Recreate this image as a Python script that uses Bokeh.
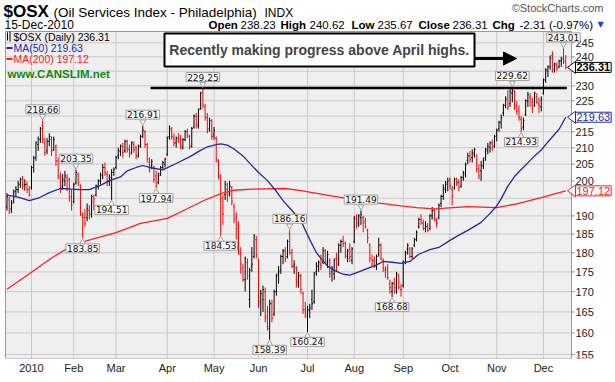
import math
import pandas as pd
from bokeh.plotting import figure
from bokeh.models import (FixedTicker, Label, Arrow, NormalHead, ColumnDataSource)
from bokeh.embed import file_html
from bokeh.resources import INLINE

# ---------------- data ----------------
holidays = ["2009-12-25", "2010-01-01", "2010-01-18", "2010-02-15", "2010-04-02",
            "2010-05-31", "2010-07-05", "2010-09-06", "2010-11-25"]
trade_dates = [d for d in pd.bdate_range("2009-12-16", "2010-12-15")
               if d.strftime("%Y-%m-%d") not in holidays]

opens = [
    192.5, 194.5, 192.0, 194.0, 197.0, 197.5, 199.0, 200.5, 198.8, 199.0, 197.5,
    198.0, 204.0, 207.0, 211.0, 212.5, 217.0, 211.5, 209.0, 212.0, 212.5, 209.5, 210.5, 206.0, 201.0, 198.5, 200.0, 201.0, 200.5, 195.5,
    194.0, 199.5, 202.0, 198.5, 190.0, 189.5, 189.5, 191.5, 190.5, 194.0, 196.0, 198.5, 200.0, 201.5, 204.0, 202.0, 200.0, 198.0, 202.5,
    204.0, 207.5, 209.0, 210.5, 209.0, 212.0, 209.5, 208.5, 211.0, 210.0, 207.5, 210.5, 214.0, 215.0, 211.0, 205.5, 204.5, 204.0, 201.5, 199.5, 202.0, 204.0, 205.0,
    208.0, 213.5, 215.5, 213.0, 211.5, 213.0, 212.5, 210.0, 212.5, 215.0, 213.5, 210.5, 216.5, 220.0, 217.0, 222.5, 228.0, 223.0, 219.5, 216.0, 218.5,
    214.0, 213.0, 206.0, 201.0, 194.0, 196.0, 197.5, 196.5, 198.0, 192.5, 189.5, 187.5, 180.0, 176.0, 173.0, 177.5, 168.0, 176.5, 179.0, 183.5,
    178.0, 167.5, 168.0, 170.0, 164.0, 161.0, 167.0, 164.5, 170.0, 174.5, 175.5, 179.0, 180.5, 179.0, 185.0, 180.0, 176.5, 176.0, 172.5, 174.0, 169.5, 165.5,
    164.0, 165.5, 168.0, 167.5, 175.0, 176.5, 177.0, 177.5, 180.5, 177.5, 178.0, 175.0, 174.5, 178.5, 177.0, 182.0, 183.0, 182.5, 179.0, 181.0, 178.0,
    183.0, 189.0, 188.0, 189.5, 189.5, 188.5, 186.0, 182.0, 177.0, 178.0, 176.5, 179.5, 182.0, 178.0, 175.5, 176.0, 172.0, 170.0, 172.0, 171.0, 174.0, 170.5,
    171.5, 177.5, 181.0, 181.0, 179.0, 182.0, 183.5, 187.0, 189.0, 188.0, 186.5, 187.0, 186.5, 190.0, 191.5, 188.5, 189.5, 193.5, 195.5, 197.5, 199.5,
    200.5, 197.5, 198.0, 200.5, 199.5, 198.5, 201.0, 202.0, 206.0, 207.5, 207.0, 208.0, 207.5, 203.5, 203.0, 204.5, 207.0, 209.0, 210.0, 211.5, 210.5,
    214.0, 216.0, 218.0, 221.0, 223.5, 226.0, 224.0, 227.5, 228.0, 223.5, 222.0, 219.0, 216.5, 220.5, 225.0, 226.0, 224.5, 223.5, 226.5, 224.0, 223.0,
    227.5, 232.0, 235.0, 236.5, 240.5, 235.5, 237.0, 236.5, 238.5, 239.5, 238.23,
]
highs = [
    196.5, 195.5, 194.5, 197.5, 198.5, 200.0, 201.0, 201.5, 200.5, 199.8, 198.5,
    204.5, 207.5, 212.0, 213.5, 216.5, 218.66, 213.0, 213.0, 214.5, 213.5, 213.5, 211.0, 207.0, 202.5, 202.0, 203.0, 202.0, 201.0, 197.5,
    199.5, 203.35, 202.5, 199.0, 191.0, 192.0, 193.5, 193.0, 196.0, 196.0, 199.0, 200.5, 202.5, 205.0, 205.5, 203.0, 202.0, 203.5, 204.0,
    207.5, 210.0, 211.0, 211.5, 212.5, 212.5, 211.0, 212.0, 212.0, 210.5, 211.0, 214.0, 216.91, 215.5, 211.5, 207.0, 206.5, 204.5, 203.0, 202.5, 204.5, 206.0, 207.0,
    213.5, 217.0, 216.5, 214.5, 213.5, 214.5, 214.0, 213.0, 215.5, 216.0, 214.0, 216.5, 220.5, 221.0, 222.5, 228.0, 229.25, 224.0, 221.0, 219.5, 219.0,
    216.5, 213.5, 206.5, 202.0, 196.0, 200.0, 199.5, 200.0, 198.5, 193.5, 191.0, 188.5, 181.5, 177.0, 179.0, 178.5, 176.0, 181.5, 185.0, 184.5,
    178.5, 170.5, 171.5, 171.0, 166.5, 168.0, 168.0, 170.5, 174.5, 176.5, 179.5, 181.0, 181.5, 183.5, 186.16, 181.0, 178.0, 176.5, 175.0, 174.5, 170.0, 167.5,
    166.5, 167.0, 170.5, 175.0, 177.5, 178.0, 179.5, 181.5, 181.0, 180.5, 178.5, 176.5, 178.5, 180.0, 182.5, 183.5, 184.5, 183.0, 181.0, 182.5, 181.5,
    190.0, 190.5, 190.5, 191.49, 190.0, 189.5, 186.5, 182.5, 179.5, 179.0, 179.5, 184.0, 182.5, 178.5, 176.5, 177.0, 173.0, 172.5, 173.5, 175.0, 174.5, 172.0,
    178.0, 180.5, 182.5, 181.5, 181.5, 184.0, 186.0, 189.5, 190.5, 189.0, 188.5, 188.0, 190.5, 192.5, 192.0, 189.5, 193.5, 196.0, 199.0, 200.0, 201.0,
    201.0, 198.5, 201.0, 201.0, 200.5, 201.5, 203.0, 205.5, 208.5, 209.0, 209.5, 210.0, 208.0, 205.0, 206.0, 207.0, 210.0, 211.5, 212.0, 212.5, 214.0,
    216.0, 218.5, 220.5, 224.0, 226.5, 228.5, 229.5, 229.62, 228.5, 225.0, 223.5, 220.0, 219.5, 225.5, 228.0, 227.5, 226.0, 228.0, 227.5, 226.0, 226.5,
    232.5, 236.0, 237.0, 240.5, 242.0, 238.0, 238.0, 239.0, 240.0, 243.01, 240.62,
]
lows = [
    191.5, 190.5, 190.8, 193.5, 195.5, 196.5, 198.0, 197.5, 197.2, 196.5, 195.5,
    197.5, 202.5, 206.0, 209.0, 211.5, 211.5, 207.5, 208.0, 210.5, 207.5, 209.0, 204.5, 200.5, 196.5, 197.5, 198.5, 197.0, 194.0, 191.5,
    193.5, 199.0, 198.5, 190.0, 183.85, 187.0, 188.5, 189.0, 189.5, 191.5, 195.5, 197.5, 199.0, 200.5, 201.5, 198.5, 198.5, 194.51, 201.5,
    203.5, 206.5, 207.5, 207.0, 208.5, 208.5, 207.0, 208.0, 208.5, 206.5, 207.0, 210.0, 213.0, 210.0, 205.5, 202.5, 203.5, 199.5, 197.94, 199.0, 201.5, 203.5, 204.0,
    207.5, 212.5, 212.5, 210.5, 210.0, 211.5, 209.5, 209.5, 212.0, 213.0, 209.5, 210.0, 216.0, 216.0, 216.0, 222.0, 222.5, 218.5, 214.5, 215.0, 212.5,
    212.5, 205.5, 200.5, 184.53, 187.5, 194.5, 194.0, 195.5, 193.0, 188.0, 183.5, 179.5, 174.5, 172.5, 170.0, 173.0, 166.0, 175.0, 178.5, 178.5,
    166.0, 164.0, 165.0, 162.5, 160.5, 158.39, 162.5, 164.0, 169.0, 172.0, 174.5, 177.0, 177.5, 178.5, 179.5, 176.0, 174.5, 171.0, 171.0, 169.5, 164.5, 163.5,
    160.24, 163.5, 165.5, 167.0, 174.0, 175.0, 175.5, 177.0, 177.0, 176.0, 173.5, 172.5, 173.0, 175.0, 176.5, 180.0, 181.5, 178.5, 177.5, 177.5, 177.0,
    182.5, 186.5, 187.0, 187.5, 185.5, 186.5, 182.5, 177.5, 176.5, 176.0, 175.5, 179.0, 178.0, 175.0, 173.5, 173.0, 169.5, 168.68, 169.5, 169.5, 170.5, 168.8,
    171.0, 177.0, 179.5, 178.5, 178.5, 181.5, 183.0, 186.5, 187.5, 186.0, 185.5, 185.5, 186.0, 189.0, 188.5, 186.8, 189.0, 192.5, 194.5, 196.5, 197.0,
    197.5, 193.0, 197.5, 198.5, 197.0, 198.0, 200.0, 201.0, 205.0, 205.5, 205.5, 207.0, 202.5, 200.5, 200.0, 203.5, 206.0, 208.0, 208.5, 209.0, 210.0,
    212.0, 215.0, 216.0, 220.0, 222.5, 222.0, 223.0, 224.5, 222.0, 220.5, 218.5, 214.93, 215.5, 220.0, 223.0, 223.0, 221.0, 223.0, 224.0, 221.0, 221.5,
    227.0, 231.0, 233.0, 235.5, 234.5, 234.5, 235.0, 236.0, 236.5, 237.5, 235.67,
]
closes = [
    195.5, 191.5, 193.5, 196.8, 197.5, 199.2, 200.5, 198.5, 199.0, 197.5, 196.0,
    204.0, 206.8, 211.5, 212.8, 216.0, 212.5, 208.5, 212.0, 213.5, 209.0, 212.5, 206.0, 201.5, 197.5, 200.5, 201.5, 200.0, 195.0, 193.0,
    199.0, 202.5, 199.5, 190.5, 189.5, 187.8, 192.0, 190.5, 195.5, 194.8, 198.5, 200.0, 201.8, 204.0, 202.5, 199.5, 201.0, 202.5, 203.5,
    207.0, 209.0, 210.5, 208.5, 212.0, 209.5, 208.0, 211.5, 209.5, 207.5, 210.5, 213.5, 215.5, 211.0, 206.5, 204.0, 205.8, 200.5, 198.5, 201.5, 204.0, 205.5, 206.5,
    213.0, 216.0, 213.5, 211.5, 213.0, 212.0, 210.5, 212.5, 215.0, 214.0, 210.5, 216.0, 220.0, 217.5, 222.0, 227.5, 223.5, 219.5, 215.5, 218.5, 213.5,
    215.5, 206.5, 201.5, 195.0, 190.5, 199.0, 196.0, 198.5, 194.0, 189.0, 186.5, 180.5, 177.0, 173.0, 178.5, 174.0, 175.5, 177.0, 184.5, 179.5,
    167.0, 169.5, 170.5, 163.5, 161.5, 167.0, 163.5, 170.0, 174.0, 175.0, 179.0, 180.5, 178.5, 183.0, 180.0, 176.5, 177.0, 172.0, 174.0, 170.5, 165.5, 164.5,
    165.5, 166.0, 167.0, 174.5, 176.5, 177.5, 176.5, 180.5, 178.0, 179.5, 174.5, 176.0, 178.0, 175.5, 182.0, 183.0, 182.5, 179.5, 180.5, 179.0, 181.0,
    189.5, 187.5, 190.0, 190.5, 188.0, 187.0, 184.0, 178.5, 178.0, 176.5, 179.0, 182.0, 178.5, 176.0, 175.5, 173.5, 171.0, 172.0, 170.0, 174.5, 171.0, 170.5,
    177.5, 180.0, 182.0, 179.0, 181.0, 183.5, 185.5, 189.0, 188.0, 186.5, 187.0, 186.0, 190.0, 191.5, 189.0, 188.0, 193.0, 195.5, 198.0, 199.0, 200.0,
    198.5, 195.5, 200.5, 199.5, 198.0, 201.0, 202.5, 205.0, 207.5, 206.5, 208.5, 209.5, 203.5, 201.5, 204.5, 206.0, 209.5, 210.5, 211.5, 210.0, 213.5,
    215.5, 218.0, 219.5, 223.5, 225.5, 223.0, 228.0, 228.5, 223.0, 221.5, 219.5, 216.0, 218.5, 225.0, 227.0, 226.5, 222.5, 227.5, 224.5, 223.5, 225.5,
    232.0, 235.5, 236.5, 239.5, 235.0, 237.5, 236.0, 238.5, 239.0, 238.62, 236.31,
]

# moving averages (trading-day number, value)
ma50_days = [0, 5, 10, 14, 19, 24, 29, 33, 37, 42, 46, 51, 54, 58, 61, 64, 70, 76, 82, 86, 90, 94, 96, 99,
             102, 106, 109, 113, 117, 121, 124, 128, 132, 136, 139, 141, 144, 147, 151, 154, 158, 162, 166,
             169, 173, 177, 181, 185, 190, 194, 199, 203, 207, 210, 213, 217, 220, 222, 225, 228, 231, 234,
             237, 240, 243, 246, 248, 251]
ma50_vals = [195.9, 195.3, 194.3, 195.0, 196.6, 197.8, 197.6, 197.5, 197.5, 198.7, 200.1, 201.2, 203.0, 204.0,
             204.6, 204.0, 203.3, 205.2, 207.2, 208.8, 210.3, 211.0, 211.2, 210.8, 209.6, 207.5, 205.3, 202.5,
             200.1, 197.0, 194.3, 191.5, 188.7, 183.5, 180.0, 178.5, 176.5, 175.4, 174.4, 174.2, 175.0, 175.9,
             176.8, 177.7, 177.5, 177.2, 177.7, 179.6, 180.8, 181.4, 183.3, 184.7, 186.0, 187.1, 188.2, 190.7,
             192.8, 194.8, 198.5, 201.3, 203.4, 205.4, 207.5, 209.3, 211.8, 214.2, 215.8, 219.63]
ma200_days = [0, 11, 20, 27, 36, 49, 60, 72, 81, 88, 96, 102, 110, 125, 132, 147, 162, 177, 184, 192, 207,
              220, 229, 240, 251]
ma200_vals = [170.6, 174.9, 178.6, 181.1, 183.2, 185.4, 187.9, 189.3, 192.0, 194.2, 196.3, 197.3, 197.6,
              197.8, 197.2, 195.5, 194.0, 192.8, 192.3, 192.0, 192.6, 192.3, 193.4, 195.2, 197.12]

callout_days = [16, 31, 34, 47, 61, 67, 88, 96, 118, 127, 135, 159, 173, 227, 231, 250]
callout_side = ["high", "high", "low", "low", "high", "low", "high", "low", "low", "high", "low",
                "high", "low", "high", "low", "high"]

april_high = 229.25
month_names = ["2010", "Feb", "Mar", "Apr", "May", "Jun", "Jul", "Aug", "Sep", "Oct", "Nov", "Dec"]
price_ticks = list(range(155, 250, 5))

# ---------------- geometry (page pixels) ----------------
W, H = 615, 382
FRAME_H = 358                       # frame covers page y 0..358; x axis below
CH_L, CH_R, CH_T, CH_B = 5, 571, 31, 358
BAR0, STEP = 6.5, 2.226             # page x of first bar, pixels per trading day
Y0, Y1 = 154.1, 249.1               # data y at chart box bottom/top
KY = math.log(Y1 / Y0) / (CH_B - CH_T)


def px(xp):  # page x -> data x
    return (xp - BAR0) / STEP


def py(yp):  # page y -> data y (log scale)
    return Y0 * math.exp((CH_B - yp) * KY)


def shift(v, d):  # move a value d pixels upward
    return v * math.exp(d * KY)


X0, X1 = px(CH_L), px(CH_R)
n = len(closes)
xs = list(range(n))
RED = "#ff0000"
NAVY = "#26269e"
MARED = "#ff2020"
colors = ["black" if i == 0 or closes[i] >= closes[i - 1] else RED for i in range(n)]

month_idx = []
for i, d in enumerate(trade_dates):
    if d.year == 2010 and (i == 0 or trade_dates[i - 1].month != d.month):
        month_idx.append(i)

p = figure(width=W, height=H, frame_width=W, frame_height=FRAME_H,
           output_backend="svg", toolbar_location=None,
           y_axis_type="log", x_range=(px(0), px(W)), y_range=(Y0, py(0)),
           min_border_left=0, min_border_right=0, min_border_top=0, min_border_bottom=H - FRAME_H)
p.background_fill_color = "white"
p.border_fill_color = "white"
p.outline_line_color = None
p.yaxis.visible = False
p.grid.visible = False

p.xaxis.ticker = FixedTicker(ticks=month_idx)
p.xaxis.major_label_overrides = {m: name for m, name in zip(month_idx, month_names)}
p.xaxis.major_label_text_font = "Liberation Sans"
p.xaxis.major_label_text_font_size = "11px"
p.xaxis.major_label_text_color = "#222222"
p.xaxis.axis_line_color = None
p.xaxis.major_tick_line_color = None
p.xaxis.minor_tick_line_color = None
p.xaxis.major_tick_out = 0
p.xaxis.major_tick_in = 0
p.xaxis.major_label_standoff = 3

# chart box + grid
p.quad(left=[X0], right=[X1], bottom=[Y0], top=[Y1], fill_color="#efefef", line_color=None)
GRID = "#c9c9c9"
p.segment(x0=[X0] * len(price_ticks), x1=[X1] * len(price_ticks), y0=price_ticks, y1=price_ticks,
          line_color=GRID, line_width=1)
p.segment(x0=month_idx, x1=month_idx, y0=[Y0] * len(month_idx), y1=[Y1] * len(month_idx),
          line_color=GRID, line_width=1)

# OHLC bars
src = ColumnDataSource(dict(x=xs, o=opens, h=highs, l=lows, c=closes, col=colors,
                            xl=[i - 0.45 for i in xs], xr=[i + 0.45 for i in xs]))
p.segment(x0="x", y0="l", x1="x", y1="h", line_color="col", line_width=1, source=src)
p.segment(x0="xl", y0="o", x1="x", y1="o", line_color="col", line_width=1, source=src)
p.segment(x0="x", y0="c", x1="xr", y1="c", line_color="col", line_width=1, source=src)

# moving averages
p.line(ma200_days, ma200_vals, line_color=MARED, line_width=1.3)
p.line(ma50_days, ma50_vals, line_color=NAVY, line_width=1.3)

# chart border
p.quad(left=[X0], right=[X1], bottom=[Y0], top=[Y1], fill_color=None, line_color="#9a9a9a", line_width=1)

# right price scale
shown = [t for t in price_ticks if t not in (195, 220, 235)]
p.segment(x0=[X1] * len(shown), x1=[px(CH_R + 3)] * len(shown), y0=shown, y1=shown,
          line_color="#888888", line_width=1)
p.text(x=[px(CH_R + 4)] * len(shown), y=shown, text=[str(t) for t in shown],
       text_font_size="11px", text_color="#222222", text_baseline="middle", text_align="left",
       text_font={"value": "Liberation Sans"})

# April-high line
p.segment(x0=[px(150)], y0=[april_high], x1=[n - 0.5], y1=[april_high], line_color="black", line_width=2.5)

# note box + arrow
p.quad(left=[px(164)], right=[px(474)], top=[py(33)], bottom=[py(66)],
       fill_color="white", line_color="black", line_width=2)
p.add_layout(Label(x=px(319), y=py(49.5), text="Recently making progress above April highs.",
                   text_font="Liberation Sans", text_font_style="bold", text_font_size="14px",
                   text_align="center", text_baseline="middle"))
p.add_layout(Arrow(end=NormalHead(size=13, fill_color="black", line_color="black"),
                   x_start=px(474), y_start=py(58), x_end=px(516), y_end=py(58),
                   line_width=3, line_color="black"))

# callouts
cx, cy_tri, mk = [], [], []
for d, side in zip(callout_days, callout_side):
    v = highs[d] if side == "high" else lows[d]
    up = side == "high"
    cx.append(d)
    cy_tri.append(shift(v, 4 if up else -4))
    mk.append("inverted_triangle" if up else "triangle")
p.scatter(x=cx, y=cy_tri, marker=mk, size=6, fill_color="#f8f8f8", line_color="#a0a0a0")
for d, side in zip(callout_days, callout_side):
    v = highs[d] if side == "high" else lows[d]
    up = side == "high"
    p.add_layout(Label(x=d, y=shift(v, 11 if up else -10), text=f"{v:.2f}",
                       text_font="DejaVu Sans", text_font_size="9px", text_color="#111111",
                       text_align="center", text_baseline="middle",
                       background_fill_color="#f8f8f8", border_line_color="#a0a0a0", padding=1))


def lab(xp, yp, text, size="11px", color="black", bold=False, align="left", font="Liberation Sans", **kw):
    p.add_layout(Label(x=px(xp), y=py(yp), text=text, text_font=font, text_font_size=size,
                       text_color=color, text_font_style="bold" if bold else "normal",
                       text_align=align, text_baseline="middle", **kw))


# header
lab(3, 11, "$OSX", size="17px", bold=True)
lab(53, 12, "(Oil Services Index - Philadelphia)", size="13.5px")
lab(264, 12, "INDX", size="12px")
lab(603, 7, "\u00a9StockCharts.com", size="11px", color="#555555", align="right")
lab(4, 24, "15-Dec-2010", size="12px")
hdr = [(208, "Open", True), (240, f"{opens[-1]:.2f}", False), (280, "High", True),
       (309, f"{highs[-1]:.2f}", False), (351, "Low", True), (377, f"{lows[-1]:.2f}", False),
       (418, "Close", True), (452, f"{closes[-1]:.2f}", False), (492, "Chg", True),
       (519, f"{closes[-1] - closes[-2]:.2f} ({(closes[-1] / closes[-2] - 1) * 100:.2f}%)", False)]
for xp, t, b in hdr:
    lab(xp, 24, t, size="11.5px", bold=b)
lab(597, 24, "\u25bc", size="8px", color="#1f3fd0", font="DejaVu Sans")

# legend
p.segment(x0=[px(7), px(9.5)], y0=[py(32), py(31)], x1=[px(7), px(9.5)], y1=[py(40), py(41)],
          line_color="black", line_width=1)
lab(13, 36.5, f"$OSX (Daily) {closes[-1]:.2f}", size="10.5px")
p.segment(x0=[px(6)], y0=[py(47.5)], x1=[px(12)], y1=[py(47.5)], line_color=NAVY, line_width=2)
lab(13, 47.5, f"MA(50) {ma50_vals[-1]:.2f}", size="10.5px", color=NAVY)
p.segment(x0=[px(6)], y0=[py(58.5)], x1=[px(12)], y1=[py(58.5)], line_color=MARED, line_width=2)
lab(13, 58.5, f"MA(200) {ma200_vals[-1]:.2f}", size="10.5px", color=MARED)
lab(7, 73, "www.CANSLIM.net", size="11.5px", color="#118811", bold=True)

# right-hand value markers
for v, col, bold in [(closes[-1], "black", True), (ma50_vals[-1], NAVY, False),
                     (ma200_vals[-1], MARED, False)]:
    p.patch(x=[px(567), px(575), px(575)], y=[v, shift(v, 6), shift(v, -6)],
            fill_color="white", line_color=col, line_width=1)
    p.add_layout(Label(x=px(575), y=v, text=f"{v:.2f}", text_font="Liberation Sans",
                       text_font_size="11px", text_font_style="bold" if bold else "normal",
                       text_color=col, text_align="left", text_baseline="middle",
                       background_fill_color="white", border_line_color=col, padding=1))

open("out.html", "w").write(file_html(p, INLINE))
